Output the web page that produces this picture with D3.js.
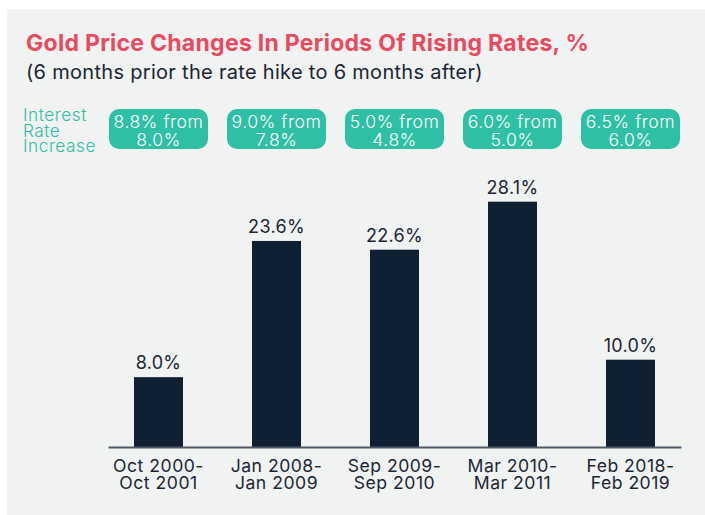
<!DOCTYPE html>
<html><head><meta charset="utf-8">
<script src="https://cdn.jsdelivr.net/npm/d3@7"></script>
<style>
html,body{margin:0;padding:0;background:#fff;}
svg{display:block;font-family:Inter, "Noto Sans", sans-serif;}
</style></head>
<body><svg id="c" width="705" height="515"></svg>
<script>
const periodsLine1 = ["Oct 2000-", "Jan 2008-", "Sep 2009-", "Mar 2010-", "Feb 2018-"];
const periodsLine2 = ["Oct 2001", "Jan 2009", "Sep 2010", "Mar 2011", "Feb 2019"];
const goldChange = [8.0, 23.6, 22.6, 28.1, 10.0];
const rateLine1 = ["8.8% from", "9.0% from", "5.0% from", "6.0% from", "6.5% from"];
const rateLine2 = ["8.0%", "7.8%", "4.8%", "5.0%", "6.0%"];
const title = "Gold Price Changes In Periods Of Rising Rates, %";
const subtitle = "(6 months prior the rate hike to 6 months after)";
const rowLabel = ["Interest", "Rate", "Increase"];

const svg = d3.select("#c");
svg.append("rect").attr("x",7).attr("y",9).attr("width",698).attr("height",506).attr("fill","#f1f2f2");

svg.append("text").attr("x",26).attr("y",51).attr("fill","#ea4a5f")
  .attr("font-size",23).attr("font-weight",700).attr("letter-spacing",0.28).text(title);
svg.append("text").attr("x",26).attr("y",79).attr("fill","#1b2633")
  .attr("font-size",20).attr("letter-spacing",0.3).text(subtitle);

const x = d3.scaleBand().domain(d3.range(goldChange.length)).range([108,681])
  .paddingInner(0.5847).paddingOuter(0.2203);
const y = d3.scaleLinear().domain([0,30]).range([447,185.1]);

// row label
svg.append("text").attr("fill","#2ebfa5").attr("font-size",17.2).attr("font-weight",300)
  .attr("letter-spacing",0.55)
  .selectAll("tspan").data(rowLabel).join("tspan")
  .attr("x",23).attr("y",(d,i)=>121+i*15.6).text(d=>d);

// pills
const pills = svg.append("g").selectAll("g").data(goldChange).join("g")
  .attr("transform",(d,i)=>`translate(${x(i)+x.bandwidth()/2},0)`);
pills.append("rect").attr("x",-49.5).attr("y",109).attr("width",99).attr("height",40)
  .attr("rx",10).attr("fill","#2ebfa5");
pills.append("text").attr("text-anchor","middle").attr("fill","#fff").attr("font-size",17.6)
  .attr("font-weight",300).attr("letter-spacing",0.55)
  .selectAll("tspan").data((d,i)=>[rateLine1[i],rateLine2[i]]).join("tspan")
  .attr("x",0).attr("y",(d,j)=>127.5+j*18).text(d=>d);

// bars
svg.append("g").selectAll("rect").data(goldChange).join("rect")
  .attr("x",(d,i)=>x(i)).attr("width",x.bandwidth())
  .attr("y",d=>y(d)).attr("height",d=>y(0)-y(d)).attr("fill","#0f2032");

svg.append("g").selectAll("text").data(goldChange).join("text")
  .attr("x",(d,i)=>x(i)+x.bandwidth()/2).attr("y",d=>y(d)-8)
  .attr("text-anchor","middle").attr("fill","#1b2633").attr("font-size",18)
  .attr("letter-spacing",0.3)
  .text(d=>d.toFixed(1)+"%");

// axis
const ax = svg.append("g").attr("transform",`translate(0,${y(0)})`)
  .call(d3.axisBottom(x).tickSize(0).tickSizeOuter(0).tickFormat(""));
ax.select(".domain").attr("stroke","#4d5965").attr("stroke-width",2.2);
ax.selectAll(".tick text").remove();
ax.selectAll(".tick").append("text").attr("text-anchor","middle").attr("fill","#1b2633")
  .attr("font-size",17.6).attr("font-family","Inter, sans-serif").attr("letter-spacing",0.5)
  .selectAll("tspan").data(i=>[periodsLine1[i],periodsLine2[i]]).join("tspan")
  .attr("x",0).attr("y",(d,j)=>24.7+j*17.3).text(d=>d);
</script></body></html>
